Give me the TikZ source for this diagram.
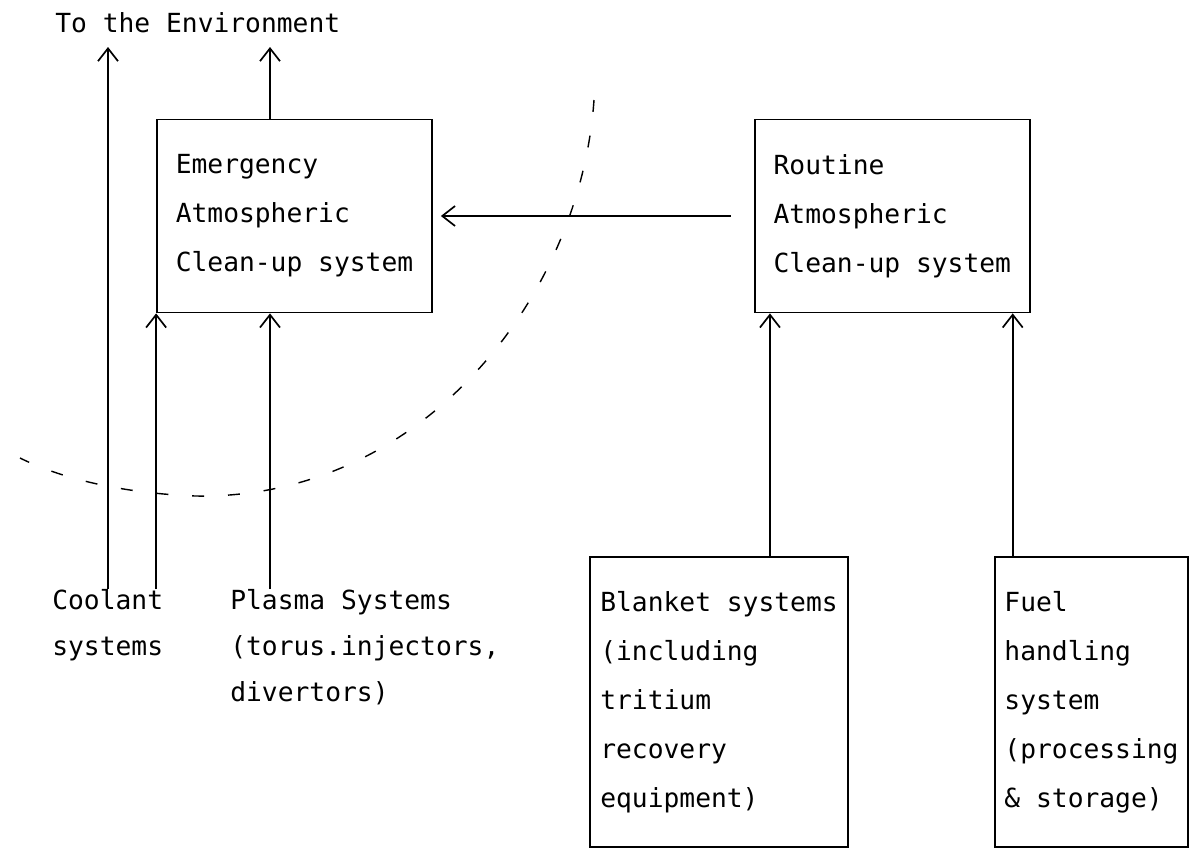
\documentclass[tikz,border=0pt]{standalone}
\usepackage{fontspec}
\setmonofont{DejaVu Sans Mono}
\usetikzlibrary{arrows.meta, positioning}

\newcommand{\boxfont}{\ttfamily\fontsize{18.7}{34.9}\selectfont}
\newcommand{\labelfont}{\ttfamily\fontsize{18.7}{32.9}\selectfont}

\tikzset{
	box/.style = {draw, line width=1.2pt, align=left, font=\boxfont},
	txt/.style = {inner sep=0pt, align=left, font=\labelfont},
	flow/.style = {line width=1.2pt, -{Straight Barb[length=3.2mm, width=5mm]}},
	bound/.style = {line width=1pt, dash pattern=on 8.5pt off 17pt}
}

\begin{document}
\begin{tikzpicture}[x=0.025cm, y=-0.025cm]
		\useasboundingbox (0,0) rectangle (1191,849);

		% clean-up systems
		\node[box, minimum width=6.875cm, minimum height=4.825cm] (emerg) at (294.5,216) {Emergency\\Atmospheric\\Clean-up system};
		\node[box, minimum width=6.875cm, minimum height=4.825cm] (routine) [right=8.025cm of emerg] {Routine\\Atmospheric\\Clean-up system};

		% sources
		\node[box, minimum width=6.45cm, minimum height=7.25cm] (blanket) at (719,702) {Blanket systems\\(including\\tritium\\recovery\\equipment)};
		\node[box, minimum width=4.825cm, minimum height=7.25cm] (fuel) at (1091.5,702) {Fuel\\handling\\system\\(processing\\\& storage)};
		\node[txt, anchor=north west] (coolant) at (52,589) {Coolant\\systems};
		\node[txt, anchor=north west] (plasma) at (230,589) {Plasma Systems\\(torus.injectors,\\divertors)};
		\node[txt, anchor=base west] (env) at (55,32) {To the Environment};

		\coordinate (out1) at (108,47);
		\coordinate (out2) at (270,47);
		\coordinate (in1) at ([xshift=0.4cm]routine.south west);
		\coordinate (in2) at ([xshift=-0.45cm]routine.south east);

		\draw[flow] (coolant.north -| out1) -- (out1);
		\draw[flow] (emerg.north -| out2) -- (out2);
		\draw[flow] (coolant.north -| emerg.south west) -- (emerg.south west);
		\draw[flow] (plasma.north -| out2) -- (emerg.south -| out2);
		\draw[flow] ([xshift=-0.575cm]routine.west) -- ([xshift=0.2cm]emerg.east);
		\draw[flow] (blanket.north -| in1) -- (in1);
		\draw[flow] (fuel.north -| in2) -- (in2);

		% boundary
		\draw[bound] (594,100) .. controls (580,300) and (420,500) .. (195,496) .. controls (120,493) and (60,478) .. (20,458);

	\end{tikzpicture}
\end{document}
